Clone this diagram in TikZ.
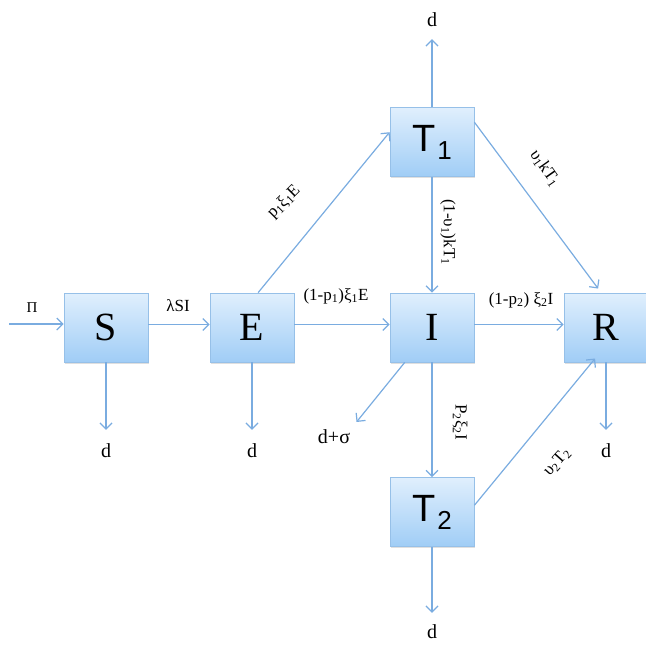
\documentclass[tikz,border=0pt]{standalone}
\usepackage{fontspec}
\setmainfont{Liberation Serif}
\newfontfamily\boxsans{Liberation Sans}
\usetikzlibrary{arrows.meta,shadows}
\definecolor{ln}{RGB}{122,172,224}
\definecolor{btop}{RGB}{224,239,253}
\definecolor{bbot}{RGB}{160,205,246}
\definecolor{bdr}{RGB}{150,192,232}
\begin{document}
\begin{tikzpicture}[x=1pt,y=-1pt,
  box/.style={rectangle, minimum width=84pt, minimum height=69pt, top color=btop, bottom color=bbot, draw=bdr, line width=0.8pt, inner sep=0pt,
    drop shadow={opacity=0.25, shadow xshift=1pt, shadow yshift=-1.5pt}, font=\fontsize{40}{40}\selectfont},
  sbox/.style={box, font=\boxsans\fontsize{38}{38}\selectfont},
  arr/.style={draw=ln, line width=1.2pt, -{Straight Barb[length=6pt,width=12pt,line width=1.2pt]}},
  lab/.style={font=\fontsize{17}{17}\selectfont, inner sep=0pt},
  dl/.style={font=\fontsize{20}{20}\selectfont, inner sep=0pt}]
\useasboundingbox (0,0) rectangle (646,645);
% boxes
\node[box] (S) at (106,327.5) {S};
\node[box] (E) at (252,327.5) {E};
\node[box] (I) at (432,327.5) {I};
\node[box] (R) at (606,327.5) {R};
\node[sbox] (T1) at (432,142) {T\kern2pt\raisebox{-8pt}{\fontsize{26}{26}\selectfont 1}};
\node[sbox] (T2) at (432,512) {T\kern2pt\raisebox{-8pt}{\fontsize{26}{26}\selectfont 2}};
% d labels
\node[dl] (dS) at (106,451) {d};
\node[dl] (dE) at (252,451) {d};
\node[dl] (dR) at (606,451) {d};
\node[dl] (dT1) at (432,20) {d};
\node[dl] (dT2) at (432,632) {d};
\node[dl] (dI) at (334,437) {d+σ};
\coordinate (in) at (9,324);
% flow labels
\node[font=\fontsize{15}{15}\selectfont, inner sep=0pt] (pi) at (32,308) {Π};
\node[lab] (lSE) at (178,306) {λSI};
\node[lab] (lEI) at (336,296) {(1-p\textsubscript{1})ξ\textsubscript{1}E};
\node[lab] (lIR) at (521,300) {(1-p\textsubscript{2}) ξ\textsubscript{2}I};
\node[lab, rotate=45] (lET) at (284,202) {p\textsubscript{1}ξ\textsubscript{1}E};
\node[lab, rotate=-55] (lTR) at (545,168) {υ\textsubscript{1}kT\textsubscript{1}};
\node[lab, rotate=-90] (lTI) at (448,232) {(1-υ\textsubscript{1})kT\textsubscript{1}};
\node[lab, rotate=-90] (lIT) at (460,422) {P\textsubscript{2}ξ\textsubscript{2}I};
\node[lab, rotate=48] (lT2R) at (557,462) {υ\textsubscript{2}T\textsubscript{2}};
% connectors
\draw[arr] (in) -- (in -| S.west);
\draw[arr] ([yshift=3pt]S.east) -- ([yshift=3pt]E.west);
\draw[arr] ([yshift=3pt]E.east) -- ([yshift=3pt]I.west);
\draw[arr] ([yshift=3pt]I.east) -- ([yshift=3pt]R.west);
\draw[arr] (E.80) -- (T1.167);
\draw[arr, shorten >=5pt] (T1.25) -- (R.98);
\draw[arr, shorten >=-5pt] (T2.9) -- (R.248);
\draw[arr] (T1.south) -- (I.north);
\draw[arr] (I.south) -- (T2.north);
\draw[arr, shorten >=14pt] (S.south) -- (dS.north);
\draw[arr, shorten >=14pt] (E.south) -- (dE.north);
\draw[arr, shorten >=14pt] (R.south) -- (dR.north);
\draw[arr, shorten >=12pt] (T1.north) -- (dT1.south);
\draw[arr, shorten >=12pt] (T2.south) -- (dT2.north);
\draw[arr, shorten >=10pt] (I.232) -- (dI.north east);
\end{tikzpicture}
\end{document}
